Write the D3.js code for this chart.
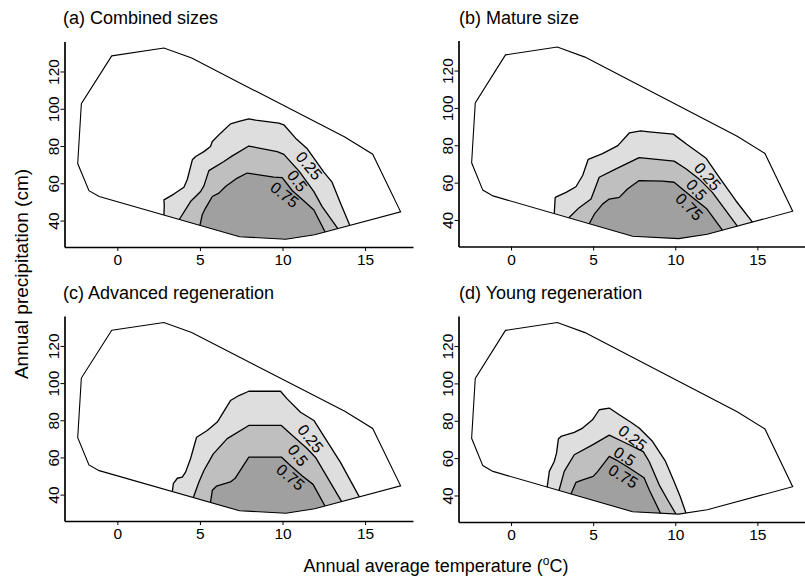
<!DOCTYPE html>
<html><head><meta charset="utf-8">
<script src="https://cdn.jsdelivr.net/npm/d3@7"></script>
<style>body{margin:0;background:#fff}svg{display:block}</style>
</head><body><svg id="chart" width="805" height="578"></svg>
<script>
// ---------- data ----------
const xDomain = [-3.2, 17.9];
const yDomain = [25.8, 136.1];
const xTicks = [0, 5, 10, 15];
const yTicks = [40, 60, 80, 100, 120];
const levels = ["0.25", "0.5", "0.75"];
const panelTitles = ["(a) Combined sizes", "(b) Mature size", "(c) Advanced regeneration", "(d) Young regeneration"];
const xTitle = "Annual average temperature (";
const yTitle = "Annual precipitation (cm)";

// climate-space hull (temperature, precipitation)
const hull = [[-0.34,128.4],[2.82,132.6],[4.5,127.2],[13.77,84.8],[15.46,75.6],[17.15,44.7],
  [11.95,32.4],[10.2,30.0],[7.4,31.3],[-1.1,52.9],[-1.72,56.0],[-2.4,70.6],[-2.18,102.7]];

// probability contours per panel: 0.25, 0.5, 0.75
const contoursA = [
  [[2.82,43.2],[2.84,48],[2.82,51.1],[3.42,54.2],[4.03,57.9],[4.23,61.9],[4.54,72.6],[4.74,74.4],[5.24,77.0],[5.64,79.7],[5.75,82.4],[6.25,86.9],[6.85,91.9],[7.36,93.2],[7.96,94.6],[8.37,93.9],[9.78,92.3],[10.08,91.4],[10.79,84.2],[11.5,78.5],[12.5,66],[13.0,60.6],[13.5,49.5],[14.07,37.8]],
  [[3.75,40.6],[4.43,50.2],[5.04,55.6],[5.24,58.6],[5.54,66.8],[6.45,71.7],[6.96,74.7],[7.96,80.0],[9.68,77.0],[10.08,75.5],[11.0,66.5],[11.9,55.5],[12.4,47.5],[13.35,36.3]],
  [[5.0,37.5],[5.14,43.1],[5.34,46.7],[5.75,52.9],[6.15,54.7],[6.55,58.3],[7.26,62.8],[7.86,65.5],[9.47,63.3],[9.98,63.0],[10.6,56],[11.3,50.5],[11.9,45.7],[12.58,34.4]]
];
const contoursB = [
  [[2.63,43.5],[2.69,52.1],[3.35,54.8],[3.95,57.8],[4.36,63.8],[4.7,72.5],[5.57,75.5],[6.5,79.8],[7.2,86.6],[7.9,87.7],[8.41,87.2],[9.88,86.0],[10.04,84.9],[10.7,80.5],[11.86,73.2],[12.67,62.9],[13.69,50.3],[14.7,39.1]],
  [[3.52,40.9],[4.15,46.6],[4.87,51.2],[5.37,62.9],[6.39,67.4],[7.8,73.4],[9.93,71.5],[10.65,67.4],[11.45,62],[12.26,54.8],[13.78,36.5]],
  [[4.76,37.9],[5.07,43.1],[5.57,48.5],[5.98,51.2],[6.59,52.1],[7.09,56.6],[7.8,61.1],[9.22,60.8],[9.93,60.2],[11.0,52.5],[11.9,46.2],[12.87,34.6]]
];
const contoursC = [
  [[3.33,42.2],[3.39,45.9],[3.63,48.8],[3.93,49.4],[4.13,52.1],[4.43,59.3],[4.63,65.6],[4.8,70.9],[5.44,74.5],[6.05,79],[6.85,90.6],[7.36,93.3],[7.96,95.6],[9.88,95.6],[10.28,91.5],[11.09,84.3],[11.9,79.9],[12.5,71.5],[13.5,57.5],[14.65,38.8]],
  [[4.6,39.0],[4.94,46.8],[5.24,53],[5.8,61.8],[6.65,70.1],[7.96,77.2],[9.93,77.2],[10.38,73.6],[11.5,64.7],[12.0,60],[13.58,36.3]],
  [[5.64,36.5],[5.75,42.3],[6.0,44.5],[6.85,46.8],[7.15,49.0],[7.96,60.2],[9.93,60.2],[10.48,55.7],[11.2,50],[11.85,45.5],[12.57,34.2]]
];
const contoursD = [
  [[2.2,45.3],[2.33,52.9],[2.63,58.2],[2.77,62.7],[2.88,70.2],[3.04,71.6],[3.85,73.8],[4.36,76.1],[4.96,80.5],[5.37,85.9],[5.98,86.8],[6.59,83.2],[7.3,79.2],[7.8,76.1],[8.61,69],[9.38,58.7],[9.9,48],[10.3,39.5],[10.65,30.6]],
  [[2.92,44.2],[3.24,52.9],[3.85,61.8],[4.96,67.1],[5.98,72.3],[6.79,68.9],[8.05,63.5],[8.41,58.2],[9.02,45.7],[9.53,37.7],[10.04,30.4]],
  [[3.65,41.0],[3.95,47],[4.36,48.4],[5.0,50.2],[5.27,52.8],[5.98,60.9],[6.39,59.1],[7.2,54.7],[8.1,49.5],[8.41,43.1],[9.1,30.8]]
];
// label centres (temperature, precipitation)
const labelsA = [[11.6,69.4],[10.89,61.3],[10.12,53.8]];
const labelsB = [[11.96,63.2],[11.29,56.1],[10.85,47.0]];
const labelsC = [[11.69,70.1],[10.93,61.1],[10.48,49.4]];
const labelsD = [[7.4,70.7],[6.91,60.9],[6.83,50.2]];

// ---------- drawing ----------
const svg = d3.select("#chart");
svg.append("rect").attr("width",805).attr("height",578).attr("fill","#fff");
const FONT = "'Liberation Sans', Arial, Helvetica, sans-serif";
const fills = ["#dedede", "#bfbfbf", "#a0a0a0"];

const hullLower = hull.slice(5, 10).slice().sort((a,b)=>a[0]-b[0]);
function lowerY(x){
  for (let i=0;i<hullLower.length-1;i++){
    const a=hullLower[i], b=hullLower[i+1];
    if (x>=a[0] && x<=b[0]) return a[1]+(b[1]-a[1])*(x-a[0])/(b[0]-a[0]);
  }
  return hullLower[0][1];
}

const layout = [
  {xr:[64.5,413], yr:[247,41.5], tx:63, ty:24},
  {xr:[458.5,805], yr:[246.5,40.5], tx:459, ty:24},
  {xr:[64.5,413], yr:[521,316], tx:63, ty:298.5},
  {xr:[458.5,805], yr:[522,316], tx:459, ty:299}
];
const allContours = [contoursA, contoursB, contoursC, contoursD];
const allLabels = [labelsA, labelsB, labelsC, labelsD];

layout.forEach((L, pi) => {
  const x = d3.scaleLinear().domain(xDomain).range(L.xr);
  const y = d3.scaleLinear().domain(yDomain).range(L.yr);
  const g = svg.append("g");
  const line = d3.line().x(d=>x(d[0])).y(d=>y(d[1]));

  // hull fill
  g.append("path").attr("d", line(hull)+"Z").attr("fill","#fff").attr("stroke","none");

  const cs = allContours[pi].map(c => {
    const c2 = c.map(p=>p.slice());
    c2[0][1] = lowerY(c2[0][0]);
    c2[c2.length-1][1] = lowerY(c2[c2.length-1][0]);
    return c2;
  });
  // filled bands
  cs.forEach((c, li) => {
    const xl = c[0][0], xr = c[c.length-1][0];
    const bottom = hullLower.filter(p => p[0] > xl && p[0] < xr).sort((a,b)=>b[0]-a[0]);
    const poly = c.concat(bottom);
    g.append("path").attr("d", line(poly)+"Z").attr("fill", fills[li]).attr("stroke","none");
  });
  // contour lines
  cs.forEach(c => {
    g.append("path").attr("d", line(c)).attr("fill","none").attr("stroke","#000")
      .attr("stroke-width",1.3).attr("stroke-linejoin","round");
  });
  // hull outline
  g.append("path").attr("d", line(hull)+"Z").attr("fill","none").attr("stroke","#000").attr("stroke-width",1.1);

  // labels
  allLabels[pi].forEach((lp, li) => {
    const px = x(lp[0]), py = y(lp[1]);
    const pts = cs[li].map(p=>[x(p[0]), y(p[1])]);
    let best = 0, bd = Infinity;
    for (let i=0;i<pts.length-1;i++){
      const mx=(pts[i][0]+pts[i+1][0])/2, my=(pts[i][1]+pts[i+1][1])/2;
      const d=(mx-px)**2+(my-py)**2;
      if (d<bd){bd=d;best=i;}
    }
    const a = pts[Math.max(0,best-1)], b = pts[Math.min(pts.length-1,best+2)];
    let ang = Math.atan2(b[1]-a[1], b[0]-a[0])*180/Math.PI;
    if (ang>90) ang-=180; if (ang<-90) ang+=180;
    g.append("text").attr("transform",`translate(${px},${py}) rotate(${ang})`)
      .attr("text-anchor","middle").attr("dominant-baseline","central")
      .attr("font-family",FONT).attr("font-size",16).attr("fill","#000")
      .text(levels[li]);
  });

  // axes
  const ax = g.append("g").attr("transform",`translate(0,${L.yr[0]})`)
    .call(d3.axisBottom(x).tickValues(xTicks).tickSize(4).tickPadding(3).tickSizeOuter(0).tickFormat(d3.format("d")));
  const ay = g.append("g").attr("transform",`translate(${L.xr[0]},0)`)
    .call(d3.axisLeft(y).tickValues(yTicks).tickSize(4).tickSizeOuter(0).tickFormat(d3.format("d")));
  [ax, ay].forEach(a => {
    a.select(".domain").attr("stroke","#000").attr("stroke-width",1.7);
    a.selectAll(".tick line").attr("stroke","#000").attr("stroke-width",1);
    a.selectAll("text").attr("font-family",FONT).attr("font-size",15.5).attr("fill","#000");
  });
  ay.selectAll(".tick text").attr("transform","rotate(-90)").attr("text-anchor","middle")
    .attr("x",0).attr("y",-5.5).attr("dy","0");

  // title
  svg.append("text").attr("x",L.tx).attr("y",L.ty).attr("font-family",FONT)
    .attr("font-size",18).attr("fill","#000").text(panelTitles[pi]);
});

// axis titles
const xt = svg.append("text").attr("x",436).attr("y",572).attr("text-anchor","middle")
  .attr("font-family",FONT).attr("font-size",18).attr("fill","#000");
xt.append("tspan").text(xTitle);
xt.append("tspan").attr("font-size",12).attr("dy",-7).text("o");
xt.append("tspan").attr("dy",7).text("C)");

svg.append("text").attr("transform","translate(28,274) rotate(-90)").attr("text-anchor","middle")
  .attr("font-family",FONT).attr("font-size",19).attr("fill","#000").text(yTitle);
</script></body></html>
